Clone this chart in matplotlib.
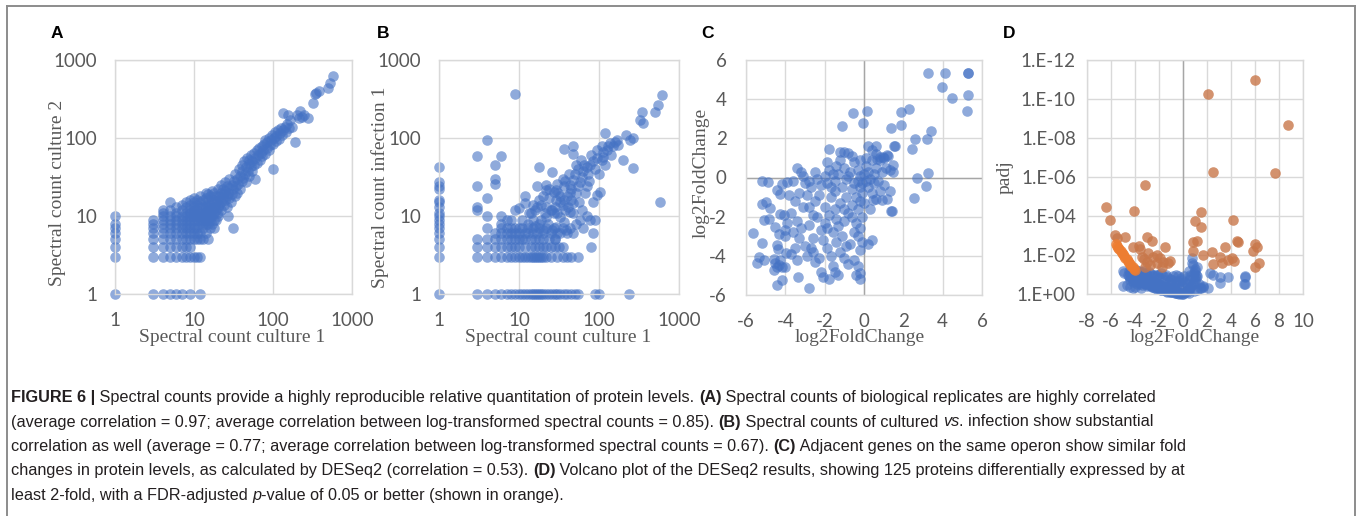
import matplotlib
matplotlib.use("Agg")
import matplotlib.pyplot as plt
from matplotlib.lines import Line2D

# ---------------- data ----------------
# Panel A: spectral count culture 1 (x) vs culture 2 (y)
A_pts = [
    (1, 1), (1, 3), (1, 4), (1, 5), (1, 6), (1, 7), (1, 8), (1, 10),
    (3, 1), (4, 1), (5, 1), (6, 1), (7, 1), (9, 1), (12, 1),
    (3, 3), (4, 3), (5, 3), (6, 3), (7, 3), (8, 3), (9, 3), (10, 3), (11, 3), (12, 3),
    (3, 4), (4, 4), (5, 4), (6, 4), (7, 4), (8, 4), (9, 4),
    (3, 5), (4, 5), (5, 5), (6, 5), (7, 5), (8, 5), (9, 5), (10, 5), (11, 5), (12, 5), (13, 5), (15, 5),
    (3, 6), (4, 6), (5, 6), (6, 6), (7, 6), (8, 6), (9, 6), (10, 6), (11, 6), (12, 6), (14, 6),
    (3, 7), (4, 7), (5, 7), (6, 7), (7, 7), (8, 7), (9, 7), (10, 7), (11, 7), (13, 7), (16, 7), (18, 7),
    (3, 8), (4, 8), (5, 8), (6, 8), (7, 8), (8, 8), (9, 8), (10, 8), (12, 8), (14, 8), (17, 8),
    (3, 9), (4, 9), (5, 9), (6, 9), (7, 9), (8, 9), (9, 9), (10, 9), (11, 9), (13, 9), (15, 9), (19, 9),
    (4, 10), (5, 10), (6, 10), (7, 10), (8, 10), (9, 10), (10, 10), (12, 10), (14, 10), (16, 10), (20, 10),
    (4, 11), (4, 12), (5, 12), (5, 15), (6, 11), (6, 13), (7, 12), (7, 14), (8, 11), (8, 13), (8, 15),
    (9, 11), (9, 12), (9, 14), (9, 16), (10, 11), (10, 12), (10, 13), (10, 15), (10, 17),
    (11, 10), (11, 12), (11, 14), (11, 16), (12, 9), (12, 11), (12, 13), (12, 15), (12, 18),
    (13, 8), (13, 10), (13, 11), (13, 13), (13, 16), (14, 9), (14, 11), (14, 12), (14, 14), (14, 17), (14, 20),
    (15, 8), (15, 10), (15, 12), (15, 13), (15, 16), (15, 19), (16, 9), (16, 11), (16, 14), (16, 18),
    (17, 10), (17, 12), (17, 15), (17, 21), (18, 9), (18, 11), (18, 13), (18, 16), (18, 20),
    (19, 12), (19, 15), (19, 18), (20, 11), (20, 13), (20, 16), (20, 22), (21, 14), (21, 18),
    (22, 12), (22, 15), (22, 20), (22, 25), (23, 17), (23, 22), (24, 14), (24, 19), (25, 16), (25, 21), (25, 27),
    (26, 13), (26, 18), (26, 24), (27, 10), (27, 20), (28, 17), (28, 23), (28, 30), (29, 15), (30, 19), (30, 25),
    (31, 7), (31, 22), (32, 28), (33, 18), (33, 35), (34, 24), (35, 20), (35, 30), (36, 26), (37, 40),
    (38, 22), (38, 33), (40, 28), (40, 38), (41, 45), (42, 31), (43, 50), (44, 35), (45, 42), (46, 27),
    (47, 55), (48, 38), (49, 47), (50, 33), (50, 52), (52, 44), (53, 60), (55, 38), (55, 50), (57, 65),
    (58, 45), (60, 55), (60, 30), (62, 70), (63, 48), (65, 60), (66, 75), (68, 52), (70, 65), (72, 58),
    (73, 80), (75, 70), (78, 85), (80, 62), (80, 95), (83, 75), (85, 88), (88, 100), (90, 70), (92, 82),
    (95, 95), (97, 110), (100, 40), (100, 85), (102, 100), (105, 120), (108, 92), (110, 105), (115, 125),
    (118, 98), (122, 115), (125, 135), (130, 110), (135, 125), (135, 208), (140, 140), (145, 118),
    (150, 150), (157, 197), (160, 135), (165, 170), (175, 140), (190, 90), (200, 195), (215, 180),
    (220, 225), (235, 185), (250, 200), (275, 178), (325, 277), (340, 365), (350, 380), (380, 395),
    (500, 433), (525, 510), (580, 624),
]

# Panel B: spectral count culture 1 (x) vs infection 1 (y)
B_pts = [
    (1, 1), (1, 3), (1, 4), (1, 5), (1, 6), (1, 7), (1, 8), (1, 9), (1, 10), (1, 11), (1, 13),
    (1, 15), (1, 16), (1, 22), (1, 24), (1, 27), (1, 42),
    (3, 1), (4, 1), (5, 1), (6, 1), (7, 1), (8, 1), (9, 1), (10, 1), (11, 1), (12, 1), (13, 1), (14, 1),
    (15, 1), (16, 1), (17, 1), (18, 1), (19, 1), (20, 1), (22, 1), (24, 1), (26, 1), (28, 1), (30, 1),
    (33, 1), (36, 1), (40, 1), (45, 1), (50, 1), (55, 1), (90, 1), (100, 1), (240, 1),
    (3, 3), (4, 3), (5, 3), (6, 3), (7, 3), (8, 3), (9, 3), (10, 3), (11, 3), (12, 3), (13, 3), (14, 3),
    (15, 3), (16, 3), (17, 3), (18, 3), (19, 3), (20, 3), (22, 3), (25, 3), (30, 3), (35, 3), (40, 3),
    (45, 3), (55, 3),
    (3, 4), (4, 4), (5, 4), (6, 4), (7, 4), (8, 4), (9, 4), (10, 4), (12, 4), (14, 4), (16, 4), (18, 4),
    (20, 4), (22, 4), (25, 4), (28, 4), (32, 4), (35, 4), (80, 4),
    (3, 5), (4, 5), (5, 5), (6, 5), (7, 5), (8, 5), (9, 5), (10, 5), (11, 5), (12, 5), (14, 5), (16, 5),
    (18, 5), (20, 5), (24, 5), (28, 5),
    (5, 6), (6, 6), (7, 6), (8, 6), (9, 6), (10, 6), (12, 6), (13, 6), (15, 6), (17, 6), (20, 6), (25, 6),
    (30, 6), (40, 6), (48, 6), (85, 6),
    (4, 7), (6, 7), (7, 7), (8, 7), (9, 7), (10, 7), (11, 7), (13, 7), (15, 7), (18, 7), (22, 7), (27, 7),
    (35, 7), (63, 7),
    (9, 363), (4, 94), (3, 58), (6, 58), (5, 45), (5, 30), (5, 26), (3, 24), (3, 13), (3, 12), (4, 17),
    (4, 10), (6, 10), (6, 8), (8, 9), (9, 12), (7, 9),
    (10, 12.5), (12, 18), (12, 14.5), (13.5, 10.8), (15, 9), (17, 24), (18, 43), (18, 8), (18, 16),
    (17, 13), (15, 13.8), (20, 6.6), (22, 25), (22, 21.5), (22, 13), (22, 9.8), (26, 37), (26, 6.6),
    (27, 20.5), (27, 10.8), (29, 7.3), (29, 16), (29, 21.5), (31, 19.5), (32.5, 15), (32.5, 9.8),
    (36, 73), (36, 24), (36, 8.4), (37, 16), (39, 6.6), (41, 13), (43, 11.4), (43, 20), (43, 25),
    (48, 78), (48, 63), (48, 29), (48, 14.5), (48, 10.8), (50, 35), (52, 45), (52, 19.5), (55, 24),
    (58, 27.5), (58, 9), (61, 32), (63, 38), (70, 43), (70, 24), (73, 35), (77, 45), (77, 9), (85, 50),
    (85, 15), (88, 9), (94, 55), (94, 18.5), (103, 20.5), (108, 52), (113, 57), (113, 67), (118, 115),
    (125, 70), (130, 78), (137, 86), (150, 78), (158, 90), (166, 94), (173, 81), (199, 52), (218, 110),
    (245, 94), (269, 41), (269, 100), (322, 170), (340, 217), (357, 154), (500, 217), (550, 264),
    (605, 355), (580, 15),
    (14, 11), (16, 12), (19, 14), (21, 11), (24, 17), (25, 12), (28, 13), (30, 11), (33, 18), (35, 14),
    (38, 12), (40, 18), (45, 16), (13, 8), (16, 7.5), (19, 9), (23, 8), (26, 12), (11, 9), (20, 18),
    (24, 22), (30, 26), (35, 30), (42, 35), (55, 40), (65, 45), (60, 52), (80, 60), (90, 40), (100, 35),
    (120, 45), (140, 60), (110, 80), (95, 70), (75, 28), (66, 20), (57, 15), (45, 22), (38, 28),
    (62, 12), (70, 10), (52, 8), (44, 7), (33, 6), (28, 5),
]

# Panel C: log2FoldChange vs log2FoldChange of adjacent gene
C_pts = [
    (3.26, 5.36), (4.14, 5.36), (5.28, 5.36), (5.28, 5.36), (3.97, 4.6), (4.47, 4.08), (5.28, 4.2),
    (5.23, 3.39), (-0.54, 3.27), (0.17, 3.39), (1.9, 3.32), (2.29, 3.52), (-1.1, 2.64), (-0.07, 2.76),
    (1.36, 2.54), (1.9, 2.67), (3.43, 2.37), (3.2, 1.99), (2.6, 1.99), (2.45, 1.45), (1.57, 1.62),
    (1.52, 1.62), (0.22, 1.62), (0.39, 1.4), (0.6, 1.62), (-1.76, 1.48), (-1.22, 1.31), (-0.8, 1.23),
    (0.98, 1.06), (0.8, 1.06), (1.15, 1.17), (0.64, 0.92), (1.48, 0.66), (1.48, 0.29), (1.31, 0.37),
    (2.7, 0.0), (3.26, 0.24), (3.17, -0.44), (2.53, -1.07), (1.35, -1.7), (1.15, -1.12), (0.89, -1.16),
    (0.47, -1.16),
    (-5.66, -2.81), (-5.19, -0.19), (-4.9, -0.22), (-5.19, -1.36), (-4.97, -1.24), (-4.77, -1.58),
    (-5.1, -2.18), (-4.85, -2.13), (-5.19, -3.37), (-5.32, -4.05), (-5.44, -4.39), (-5.1, -4.22),
    (-4.6, -4.14), (-4.51, -4.39), (-4.43, -4.56), (-4.34, -4.48), (-4.26, -4.22), (-4.17, -4.56),
    (-4.6, -4.73), (-4.4, -5.5), (-4.17, -5.24), (-3.38, -5.1), (-2.82, -5.62), (-4.04, -4.56),
    (-3.96, -3.88), (-4.43, -3.46), (-4.37, -3.63), (-4.34, -2.86), (-4.51, -2.52), (-4.0, -2.69),
    (-4.26, -1.84), (-4.09, -1.92), (-4.43, -0.65), (-4.26, -0.82), (-4.17, -0.31), (-3.92, -0.22),
    (-3.6, -0.2), (-3.4, 0.5), (-3.2, 0.3), (-3.0, -0.3), (-3.3, -0.8), (-3.5, -1.2), (-3.1, -1.5),
    (-2.9, -0.9), (-3.7, -1.8), (-3.4, -2.2), (-3.2, -2.6), (-3.6, -2.8), (-3.3, -3.1), (-3.0, -3.5),
    (-2.7, -3.6), (-3.5, -3.6), (-2.8, -2.4), (-2.6, -1.9), (-2.5, -1.2), (-2.7, -0.5), (-2.4, -0.1),
    (-2.2, -0.4), (-2.0, 0.1), (-1.9, -0.3), (-1.8, 0.4), (-1.6, 0.2), (-1.5, -0.2), (-1.4, 0.6),
    (-1.2, 0.9), (-1.0, 0.5), (-0.9, -0.1), (-0.7, 0.3), (-0.5, 0.8), (-0.3, 0.4), (-0.2, 0.1),
    (-0.1, -0.3), (0.0, 0.2), (0.1, 0.6), (0.3, -0.1), (0.5, 0.2), (0.7, -0.2), (0.9, 0.3), (0.2, -0.5),
    (0.4, -0.8), (-0.1, -0.8), (-0.2, -1.2), (-0.3, -1.6), (-0.1, -2.0), (-0.4, -2.3), (-0.2, -2.6),
    (-0.3, -3.0), (-0.1, -3.3), (-0.2, -3.7), (0.2, -3.4), (0.4, -3.2), (-0.5, -4.2), (-0.3, -4.5),
    (-0.2, -4.9), (-0.2, -5.2), (-0.4, -5.0), (-0.8, -4.4), (-1.0, -4.1), (-1.2, -3.8), (-0.9, -3.5),
    (-1.1, -3.0), (-1.4, -3.3), (-1.6, -2.8), (-1.3, -2.5), (-1.0, -2.2), (-0.8, -1.8), (-0.6, -1.4),
    (-0.9, -1.0), (-1.2, -1.3), (-1.5, -1.6), (-1.8, -1.9), (-2.0, -2.3), (-2.2, -2.7), (-2.1, -3.2),
    (-1.9, -3.6), (-1.7, -4.0), (-1.6, -4.5), (-1.5, -4.8), (-1.3, -5.0), (-1.8, -5.2), (-2.3, -4.1),
    (-2.5, -4.3), (-2.2, -4.8), (-2.1, -5.1), (-2.6, -3.1), (-2.4, -2.0), (-2.0, -1.5), (-1.7, -1.0),
    (-1.5, -0.7), (-1.1, -0.5), (-0.6, -0.6), (-0.4, -1.0), (0.0, -1.3), (0.3, -1.6), (0.6, -1.1),
    (0.8, -0.7), (1.0, -0.4), (0.6, 0.5), (0.8, 0.9), (1.0, 1.0), (1.2, 1.1), (0.4, 0.9), (0.1, 1.0),
    (-0.2, 0.9), (-0.5, -0.3), (-0.8, 0.1), (-1.3, 0.2), (-1.7, -0.5), (-2.3, -0.9), (-2.8, -1.5),
    (-3.8, -0.9), (-3.9, -2.3), (-4.0, -3.0), (-3.7, -3.9), (-3.4, -4.2), (-2.9, -4.0), (-2.6, -3.8),
    (-1.9, -2.6), (-1.4, -2.1), (-1.0, -1.6), (-0.6, -2.0), (-0.5, -2.8), (-0.7, -3.4), (-0.2, -0.5),
    (0.1, -0.2), (-0.3, -0.2), (0.2, 0.3), (0.5, -0.3), (-2.5, 0.3), (-3.1, 0.1), (-2.8, -0.2),
    (-1.9, 0.8), (-1.0, 1.3), (-0.6, 1.1), (0.6, 1.2), (1.1, 0.5), (1.3, -0.7), (1.4, -1.7),
]

# Panel D: volcano plot, (log2FoldChange, -log10 padj)
D_orange_pts = [
    (6.04, 10.97), (2.11, 10.26), (8.76, 8.67), (2.53, 6.24), (7.7, 6.19), (-3.2, 5.59), (-6.42, 4.46),
    (-4.12, 4.26), (-6.06, 3.8), (1.47, 4.19), (1.0, 3.76), (4.13, 3.8), (1.5, 3.45), (-5.7, 3.03),
    (-5.5, 2.85), (-4.87, 2.9), (-3.0, 2.94), (-2.6, 2.74), (-3.7, 2.46), (-4.2, 2.43), (-3.57, 2.29),
    (-1.49, 2.43), (0.86, 2.65), (1.2, 2.72), (0.86, 2.22), (2.39, 2.14), (1.7, 2.0), (2.47, 1.54),
    (3.5, 2.43), (4.52, 2.74), (4.6, 2.65), (3.08, 1.88), (3.27, 1.57), (3.77, 1.74), (4.05, 1.83),
    (4.27, 1.71), (5.85, 2.22), (6.04, 2.55), (6.13, 2.39), (6.32, 1.61), (6.04, 1.4), (-2.88, 2.09),
    (-2.46, 1.91), (-2.18, 2.0), (-1.9, 1.83), (-1.63, 1.66), (-1.21, 1.61), (-3.29, 1.78), (-3.0, 1.66),
    (-3.15, 1.4), (-2.74, 1.49), (-2.18, 1.57), (-1.77, 1.4), (-1.07, 1.71), (-3.43, 1.91),
]
D_orange_strip_pts = [
    (-5.6, 2.55), (-5.5, 2.45), (-5.4, 2.38), (-5.3, 2.3), (-5.2, 2.2), (-5.1, 2.12), (-5.0, 2.04),
    (-4.9, 1.95), (-4.8, 1.86), (-4.7, 1.77), (-4.6, 1.68), (-4.5, 1.6), (-4.4, 1.52), (-4.3, 1.44),
    (-4.2, 1.37), (-4.1, 1.3), (-4.0, 1.24),
]
D_blue_pts = [
    (-4.5, 1.2), (-4.4, 1.1), (-4.3, 1.15), (-4.2, 1.0), (-4.1, 1.05), (-4.0, 0.95), (-3.9, 0.9),
    (-3.8, 1.0), (-3.7, 0.85), (-3.6, 0.9), (-3.5, 0.8), (-3.4, 0.85), (-3.3, 0.75), (-3.2, 0.8),
    (-3.1, 0.7), (-3.0, 0.75), (-2.9, 0.65), (-2.8, 0.7), (-2.7, 0.6), (-2.6, 0.65), (-2.5, 0.55),
    (-2.4, 0.6), (-2.3, 0.5), (-2.2, 0.55), (-2.1, 0.45), (-2.0, 0.5), (-1.9, 0.4), (-1.8, 0.45),
    (-1.7, 0.35), (-1.6, 0.4), (-1.5, 0.3), (-1.4, 0.35), (-1.3, 0.25), (-1.2, 0.3), (-1.1, 0.2),
    (-1.0, 0.25), (-0.9, 0.15), (-0.8, 0.2), (-0.7, 0.12), (-0.6, 0.15), (-0.5, 0.08), (-0.4, 0.1),
    (-0.3, 0.05), (-0.2, 0.06), (-0.1, 0.02), (0.0, 0.01), (0.1, 0.03), (0.2, 0.08), (0.3, 0.12),
    (0.4, 0.18), (0.5, 0.25), (0.6, 0.3), (0.7, 0.4), (0.8, 0.5), (0.9, 0.6), (1.0, 0.7), (1.1, 0.8),
    (1.2, 0.9),
    (-4.0, 1.2), (-3.5, 1.1), (-3.0, 1.0), (-2.5, 0.9), (-2.0, 0.8), (-1.5, 0.7), (-1.2, 0.6),
    (-1.0, 0.55), (-0.7, 0.5), (-0.5, 0.45), (-0.3, 0.6), (-0.2, 0.8), (-0.4, 0.9), (-1.8, 1.1),
    (-2.2, 1.0), (-2.8, 1.15), (-3.3, 1.2), (-1.4, 1.0), (-0.8, 0.9), (-0.6, 1.0),
    (-4.2, 0.6), (-3.8, 0.5), (-3.4, 0.45), (-3.0, 0.4), (-2.6, 0.35), (-2.2, 0.25), (-1.8, 0.2),
    (-1.4, 0.15), (-1.0, 0.1), (-0.6, 0.05),
    (0.3, 0.5), (0.5, 0.7), (0.7, 0.9), (0.9, 1.1), (1.0, 1.3), (0.8, 1.5), (0.73, 1.57), (0.73, 1.83),
    (1.0, 1.2), (1.3, 0.5), (1.5, 0.3), (1.7, 0.4), (2.1, 0.29), (1.7, 0.38), (2.25, 1.06), (2.5, 0.95),
    (3.08, 0.89), (3.77, 0.89), (3.08, 0.58), (5.16, 0.89), (5.16, 0.51), (5.1, 0.5), (5.2, 0.9),
    (1.2, 0.2), (0.9, 0.15), (0.5, 0.05),
    (-4.68, 0.46), (-3.98, 0.38), (-3.6, 0.5), (-4.4, 0.7), (-4.9, 1.1), (-5.0, 1.2),
    (-4.6, 1.0), (-4.5, 0.9), (-4.4, 0.8), (-4.3, 0.9), (-4.2, 0.8), (-4.1, 0.75), (-4.0, 0.7),
    (-3.9, 0.65), (-3.8, 0.75), (-3.7, 0.6), (-3.6, 0.7), (-3.5, 0.6), (-3.4, 0.65), (-3.3, 0.55),
    (-3.2, 0.6), (-3.1, 0.5), (-3.0, 0.55), (-2.9, 0.45), (-2.8, 0.5), (-2.7, 0.4), (-2.6, 0.45),
    (-2.5, 0.35), (-2.4, 0.4), (-2.3, 0.3), (-2.2, 0.35), (-2.1, 0.3), (-2.0, 0.25), (-1.9, 0.3),
    (-1.8, 0.2), (-1.7, 0.25), (-1.6, 0.18), (-1.5, 0.2), (-1.3, 0.12), (-1.1, 0.1), (-0.9, 0.08),
    (-0.7, 0.05), (-0.5, 0.03), (-0.3, 0.02),
    (-4.3, 1.35), (-4.1, 1.3), (-3.9, 1.25), (-3.7, 1.2), (-3.4, 1.15), (-3.1, 1.1), (-2.7, 1.05),
    (-2.4, 1.0), (-2.1, 0.95), (-1.7, 0.9), (-1.3, 0.85), (-1.1, 0.75), (-0.9, 0.7), (-0.5, 0.65),
    (-0.3, 0.3), (-0.1, 0.4), (-0.1, 0.7), (0.1, 0.9), (0.2, 0.6), (0.4, 0.45), (0.6, 1.0), (0.9, 0.9),
    (1.1, 1.0), (0.5, 1.2), (1.2, 1.4), (1.4, 0.3),
    (-5.0, 0.4), (-4.4, 0.35), (-4.2, 0.3), (-3.5, 0.3),
]

log_ticks = [1, 10, 100, 1000]
log_ticklabels = ["1", "10", "100", "1000"]
lin_ticks_C = [-6, -4, -2, 0, 2, 4, 6]
xticks_D = [-8, -6, -4, -2, 0, 2, 4, 6, 8, 10]
yticks_D = [1, 1e-2, 1e-4, 1e-6, 1e-8, 1e-10, 1e-12]
yticklabels_D = ["1.E+00", "1.E-02", "1.E-04", "1.E-06", "1.E-08", "1.E-10", "1.E-12"]

caption_lines = [
    [("FIGURE 6 |", "b"), (" Spectral counts provide a highly reproducible relative quantitation of protein levels. ", "n"),
     ("(A)", "b"), (" Spectral counts of biological replicates are highly correlated", "n")],
    [("(average correlation = 0.97; average correlation between log-transformed spectral counts = 0.85). ", "n"),
     ("(B)", "b"), (" Spectral counts of cultured ", "n"), ("vs", "i"), (". infection show substantial", "n")],
    [("correlation as well (average = 0.77; average correlation between log-transformed spectral counts = 0.67). ", "n"),
     ("(C)", "b"), (" Adjacent genes on the same operon show similar fold", "n")],
    [("changes in protein levels, as calculated by DESeq2 (correlation = 0.53). ", "n"), ("(D)", "b"),
     (" Volcano plot of the DESeq2 results, showing 125 proteins differentially expressed by at", "n")],
    [("least 2-fold, with a FDR-adjusted ", "n"), ("p", "i"), ("-value of 0.05 or better (shown in orange).", "n")],
]

# ---------------- styling ----------------
plt.rcParams["axes.unicode_minus"] = False
W, H = 1357, 516
fig = plt.figure(figsize=(W / 100, H / 100), dpi=100)

BLUE = "#4472C4"
GRID = "#D9D9D9"
AXLINE = "#A6A6A6"
TICKC = "#595959"
TICKFONT = ["Lato", "DejaVu Sans"]
SERIF = ["Liberation Serif", "DejaVu Serif"]
CAPFONT = ["Liberation Sans", "DejaVu Sans"]
MS = 58


def rect(l, t, r, b):
    return [l / W, 1 - b / H, (r - l) / W, (b - t) / H]


def style(ax, xpad, ypad):
    for s in ax.spines.values():
        s.set_color(GRID)
        s.set_linewidth(1.0)
    ax.grid(True, color=GRID, linewidth=1.0)
    ax.set_axisbelow(True)
    ax.minorticks_off()
    ax.tick_params(length=0, labelcolor=TICKC)
    ax.tick_params(axis="x", pad=xpad)
    ax.tick_params(axis="y", pad=ypad)
    for lab in ax.get_xticklabels() + ax.get_yticklabels():
        lab.set_fontfamily(TICKFONT)
        lab.set_fontsize(13.5)


def ftext(x, y, s, **kw):
    return fig.text(x / W, 1 - y / H, s, **kw)


def scatter(ax, pts, color=BLUE, alpha=0.6, z=2):
    xs = [p[0] for p in pts]
    ys = [p[1] for p in pts]
    ax.scatter(xs, ys, s=MS, c=color, alpha=alpha, linewidths=0, clip_on=False, zorder=z)


# Panel A
axA = fig.add_axes(rect(115, 60, 352, 294))
axA.set_xscale("log"); axA.set_yscale("log")
axA.set_xlim(1, 1000); axA.set_ylim(1, 1000)
axA.set_xticks(log_ticks, log_ticklabels); axA.set_yticks(log_ticks, log_ticklabels)
style(axA, 13, 13)
scatter(axA, A_pts)

# Panel B
axB = fig.add_axes(rect(439, 60, 679, 294))
axB.set_xscale("log"); axB.set_yscale("log")
axB.set_xlim(1, 1000); axB.set_ylim(1, 1000)
axB.set_xticks(log_ticks, log_ticklabels); axB.set_yticks(log_ticks, log_ticklabels)
style(axB, 13, 13)
scatter(axB, B_pts)

# Panel C
axC = fig.add_axes(rect(746, 60, 982, 295))
axC.set_xlim(-6, 6); axC.set_ylim(-6, 6)
axC.set_xticks(lin_ticks_C, [str(t) for t in lin_ticks_C])
axC.set_yticks(lin_ticks_C, [str(t) for t in lin_ticks_C])
style(axC, 13, 14)
axC.axhline(0, color=AXLINE, lw=1.0, zorder=0.8)
axC.axvline(0, color=AXLINE, lw=1.0, zorder=0.8)
scatter(axC, C_pts)

# Panel D
axD = fig.add_axes(rect(1087, 60, 1303, 294))
axD.set_yscale("log")
axD.set_xlim(-8, 10); axD.set_ylim(1, 1e-12)
axD.set_xticks(xticks_D, [str(t) for t in xticks_D])
axD.set_yticks(yticks_D, yticklabels_D)
style(axD, 14, 8)
axD.axvline(0, color=AXLINE, lw=1.0, zorder=0.8)
scatter(axD, [(x, 10 ** (-v)) for x, v in D_blue_pts])
scatter(axD, [(x, 10 ** (-v)) for x, v in D_orange_pts], color="#C8774A", alpha=0.8, z=3)
scatter(axD, [(x, 10 ** (-v)) for x, v in D_orange_strip_pts], color="#ED7D31", alpha=0.8, z=3)

# axis labels
lab_kw = dict(family=SERIF, fontsize=14, color=TICKC, ha="center", va="center")
ftext(232, 337, "Spectral count culture 1", **lab_kw)
ftext(57, 193, "Spectral count culture 2", rotation=90, **lab_kw)
ftext(558, 337, "Spectral count culture 1", **lab_kw)
ftext(380, 187, "Spectral count infection 1", rotation=90, **lab_kw)
ftext(860, 337, "log2FoldChange", **lab_kw)
ftext(701, 173, "log2FoldChange", rotation=90, **lab_kw)
ftext(1195, 338, "log2FoldChange", **lab_kw)
ftext(1005, 177, "padj", rotation=90, **lab_kw)

# panel letters
for letter, x in zip("ABCD", [51, 377, 701, 1003]):
    ftext(x, 34, letter, family=["Liberation Sans", "DejaVu Sans"], fontweight="bold",
          fontsize=12.5, color="black", ha="left", va="center")

# frame
FRAME = "#8C8C8C"
fig.add_artist(Line2D([7 / W, 1355 / W], [1 - 6 / H, 1 - 6 / H], color=FRAME, lw=1.4))
fig.add_artist(Line2D([7 / W, 7 / W], [1 - 6 / H, 0], color=FRAME, lw=1.4))
fig.add_artist(Line2D([1355 / W, 1355 / W], [1 - 6 / H, 0], color=FRAME, lw=1.4))

# caption with mixed styles
renderer = fig.canvas.get_renderer()
CAPCOLOR = "#231F20"


def run_kw(style_code, size):
    kw = dict(family=CAPFONT, fontsize=size, color=CAPCOLOR)
    if style_code == "b":
        kw["fontweight"] = "bold"
    if style_code == "i":
        kw["fontstyle"] = "italic"
    return kw


def width(s, kw):
    t1 = fig.text(0, 0, "|" + s + "|", **kw)
    t2 = fig.text(0, 0, "||", **kw)
    w = t1.get_window_extent(renderer).width - t2.get_window_extent(renderer).width
    t1.remove(); t2.remove()
    return w


def line_width(runs, size):
    return sum(width(s, run_kw(c, size)) for s, c in runs)


base = 12.0
size = base * (1182 - 11) / line_width(caption_lines[2], base)

baselines = [402, 426.5, 451, 475.5, 500]
for runs, yb in zip(caption_lines, baselines):
    x = 11
    for s, c in runs:
        kw = run_kw(c, size)
        ftext(x, yb, s, ha="left", va="baseline", **kw)
        x += width(s, kw)

fig.savefig("out.png", dpi=100)
